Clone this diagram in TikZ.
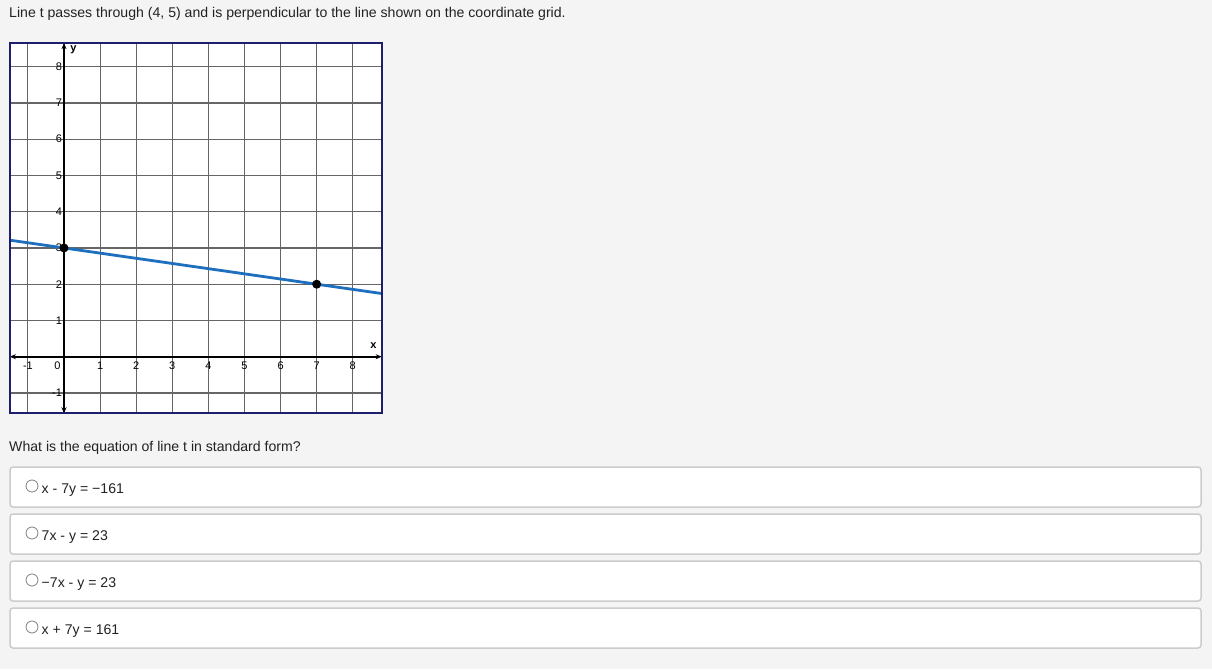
\documentclass[tikz,border=0pt]{standalone}
\usepackage{fontspec}
\setmainfont{Liberation Sans}
\usetikzlibrary{arrows.meta}

\definecolor{pagebg}{HTML}{F4F4F4}
\definecolor{framenavy}{HTML}{1E1E6E}
\definecolor{lineblue}{HTML}{1F6FBF}
\definecolor{boxgray}{HTML}{CCCCCC}
\definecolor{gridgray}{HTML}{666666}
\definecolor{textdark}{HTML}{222222}

\begin{document}
\begin{tikzpicture}[x=1pt, y=-1pt,
        every node/.style={inner sep=0pt, text=textdark},
        prompt/.style={anchor=base west, font=\fontsize{14.1}{16}\selectfont},
        choicebox/.style={draw=boxgray, line width=1.5pt, fill=white, rounded corners=3pt},
        radio/.style={circle, draw=gray, fill=white, minimum size=12pt, line width=0.8pt},
        gridline/.style={gridgray, line width=1.1pt},
        axis/.style={black, line width=1.6pt, {Stealth[length=6pt,width=5pt]}-{Stealth[length=6pt,width=5pt]}},
        ticklabel/.style={text=black, font=\fontsize{11}{13}\selectfont},
        dot/.style={circle, fill=black, minimum size=9pt}
      ]
        \fill[pagebg] (0,0) rectangle (1212,669);
        \useasboundingbox (0,0) rectangle (1212,669);

        \node[prompt] (title) at (9,17.3) {Line t passes through (4, 5) and is perpendicular to the line shown on the coordinate grid.};

        % Coordinate grid
        \fill[white] (10,43.3) rectangle (382,413.3);
        \begin{scope}[shift={(64,356.7)}, x=36.1pt, y=36.25pt]
          \foreach \i in {-1,...,8} \draw[gridline] (\i,-1.56) -- (\i,8.65);
          \foreach \j in {-1,...,8} \draw[gridline] (-1.5,\j) -- (8.8,\j);

          \coordinate (xleft) at (-1.5,0);
          \coordinate (xright) at (8.8,0);
          \coordinate (ybottom) at (0,-1.56);
          \coordinate (ytop) at (0,8.65);
          \draw[axis] (xleft) -- (xright);
          \draw[axis] (ybottom) -- (ytop);

          % Tick labels
          \foreach \i in {-1,1,2,...,8} \node[ticklabel] (xtick\i) at (\i,-0.24) {\i};
          \node[ticklabel] (xtick0) at (-0.18,-0.24) {0};
          \foreach \j in {-1,1,2,...,8} \node[ticklabel, anchor=east] (ytick\j) at (-0.05,\j) {\j};
          \node[ticklabel, font=\fontsize{11}{13}\selectfont\bfseries] (ylabel) at (0.26,8.46) {y};
          \node[ticklabel, font=\fontsize{11}{13}\selectfont\bfseries] (xlabel) at (8.57,0.3) {x};

          % Given line through (0,3) and (7,2)
          \coordinate (lineleft) at (-1.5,{3+1.5/7});
          \coordinate (lineright) at (8.8,{3-8.8/7});
          \draw[lineblue, line width=2.8pt] (lineleft) -- (lineright);
          \node[dot] (pointA) at (0,3) {};
          \node[dot] (pointB) at (7,2) {};
        \end{scope}
        \draw[framenavy, line width=2pt] (10,43.3) rectangle (382,413.3);

        \node[prompt] (question) at (9,451.7) {What is the equation of line t in standard form?};

        % Answer choices
        \foreach \k/\eq in {0/{x - 7y = −161}, 1/{7x - y = 23}, 2/{−7x - y = 23}, 3/{x + 7y = 161}} {
          \draw[choicebox] (10,{467+47*\k}) rectangle (1201,{507+47*\k});
          \node[radio] (radio\k) at (32,{486+47*\k}) {};
          \node[prompt] (choice\k) at (41.5,{493.3+47*\k}) {\eq};
        }

    \end{tikzpicture}
\end{document}
